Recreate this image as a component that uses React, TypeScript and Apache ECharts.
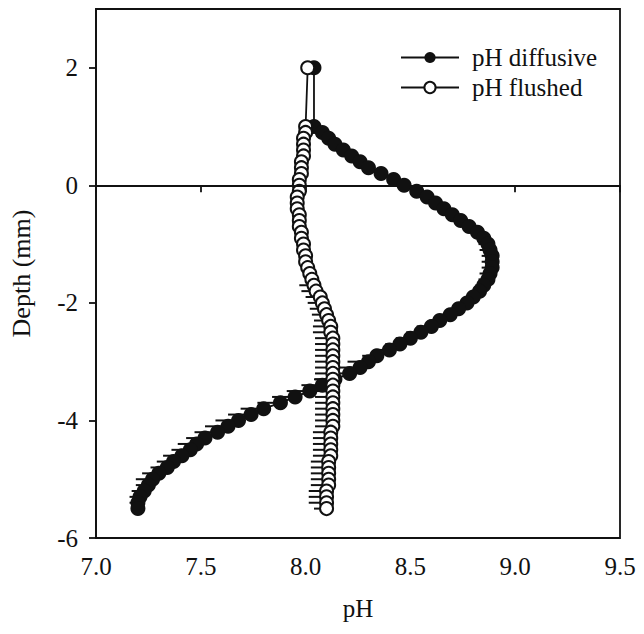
import React, { useEffect, useRef } from "react";
import * as echarts from "echarts";

// Depth (mm), shared by both profiles; first entry is the overlying-water reading
const depths: number[] = [
  2.0,
  1.0, 0.9, 0.8, 0.7, 0.6, 0.5, 0.4, 0.3, 0.2, 0.1,
  0.0, -0.1, -0.2, -0.3, -0.4, -0.5, -0.6, -0.7, -0.8, -0.9,
  -1.0, -1.1, -1.2, -1.3, -1.4, -1.5, -1.6, -1.7, -1.8, -1.9,
  -2.0, -2.1, -2.2, -2.3, -2.4, -2.5, -2.6, -2.7, -2.8, -2.9,
  -3.0, -3.1, -3.2, -3.3, -3.4, -3.5, -3.6, -3.7, -3.8, -3.9,
  -4.0, -4.1, -4.2, -4.3, -4.4, -4.5, -4.6, -4.7, -4.8, -4.9,
  -5.0, -5.1, -5.2, -5.3, -5.4, -5.5,
];

const diffusivePH: number[] = [
  8.04,
  8.04, 8.08, 8.11, 8.14, 8.18, 8.22, 8.26, 8.30, 8.36, 8.42,
  8.47, 8.53, 8.58, 8.62, 8.66, 8.70, 8.74, 8.78, 8.82, 8.85,
  8.87, 8.88, 8.89, 8.89, 8.89, 8.88, 8.87, 8.85, 8.83, 8.80,
  8.77, 8.73, 8.69, 8.64, 8.60, 8.55, 8.50, 8.45, 8.40, 8.34,
  8.30, 8.26, 8.21, 8.14, 8.08, 8.02, 7.95, 7.88, 7.80, 7.74,
  7.68, 7.63, 7.58, 7.52, 7.48, 7.45, 7.41, 7.37, 7.34, 7.30,
  7.27, 7.25, 7.23, 7.21, 7.20, 7.20,
];

const diffusiveErr: number[] = [
  0,
  0, 0, 0, 0, 0, 0, 0, 0, 0, 0,
  0, 0, 0, 0, 0, 0, 0, 0, 0, 0,
  0.045, 0.05, 0.05, 0.05, 0.05, 0.05, 0.045, 0.04, 0.04, 0.04,
  0.04, 0.04, 0.04, 0.05, 0.07, 0.07, 0.07, 0.07, 0.07, 0.07,
  0.10, 0.10, 0.10, 0.10, 0.10, 0.11, 0.11, 0.11, 0.11, 0.11,
  0.11, 0.11, 0.11, 0.09, 0.09, 0.09, 0.09, 0.08, 0.08, 0.08,
  0.08, 0.06, 0.06, 0.05, 0.04, 0.03,
];

const flushedPH: number[] = [
  8.01,
  8.00, 8.00, 7.99, 7.99, 7.99, 7.99, 7.98, 7.98, 7.98, 7.97,
  7.97, 7.97, 7.96, 7.96, 7.96, 7.97, 7.97, 7.97, 7.98, 7.98,
  7.99, 7.99, 8.00, 8.00, 8.01, 8.02, 8.03, 8.04, 8.05, 8.07,
  8.08, 8.09, 8.10, 8.11, 8.12, 8.12, 8.13, 8.13, 8.13, 8.13,
  8.13, 8.13, 8.13, 8.13, 8.13, 8.13, 8.13, 8.13, 8.13, 8.13,
  8.13, 8.13, 8.12, 8.12, 8.12, 8.12, 8.12, 8.11, 8.11, 8.11,
  8.11, 8.11, 8.10, 8.10, 8.10, 8.10,
];

const flushedErr: number[] = [
  0,
  0, 0, 0, 0, 0, 0, 0, 0, 0, 0,
  0, 0, 0, 0, 0, 0, 0, 0, 0, 0,
  0, 0, 0, 0, 0, 0, 0, 0.07, 0.07, 0.07,
  0.07, 0.07, 0.07, 0.07, 0.085, 0.085, 0.085, 0.085, 0.085, 0.085,
  0.085, 0.085, 0.085, 0.085, 0.085, 0.085, 0.085, 0.085, 0.085, 0.085,
  0.085, 0.085, 0.085, 0.085, 0.085, 0.085, 0.085, 0.085, 0.085, 0.085,
  0.085, 0.085, 0.085, 0.085, 0.085, 0.06,
];

const xTicks: number[] = [7.0, 7.5, 8.0, 8.5, 9.0, 9.5];
const yTicks: number[] = [-6, -4, -2, 0, 2];

const seriesNames = ["pH diffusive", "pH flushed"];

const FONT = "'Liberation Serif', 'Times New Roman', serif";
const FS = 25;

function errorRenderItem(params: any, api: any) {
  const x = api.value(0);
  const y = api.value(1);
  const e = api.value(2);
  if (!e) return null;
  const p1 = api.coord([x - e, y]);
  const p2 = api.coord([x, y]);
  return {
    type: "line",
    shape: { x1: p1[0], y1: p1[1], x2: p2[0], y2: p2[1] },
    style: { stroke: "#111", lineWidth: 2 },
  };
}

export default function App() {
  const ref = useRef<HTMLDivElement>(null);

  useEffect(() => {
    if (!ref.current) return;
    const chart = echarts.init(ref.current, undefined, { renderer: "svg" });

    const diffData = depths.map((d, i) => [diffusivePH[i], d]);
    const flushData = depths.map((d, i) => [flushedPH[i], d]);
    const diffErrData = depths.map((d, i) => [diffusivePH[i], d, diffusiveErr[i]]);
    const flushErrData = depths.map((d, i) => [flushedPH[i], d, flushedErr[i]]);

    chart.setOption({
      animation: false,
      backgroundColor: "#fff",
      grid: {
        left: 95,
        right: 24,
        top: 9,
        bottom: 96,
        show: true,
        borderColor: "#111",
        borderWidth: 1.8,
        backgroundColor: "transparent",
      },
      legend: {
        data: seriesNames,
        orient: "vertical",
        left: 395,
        top: 40,
        itemWidth: 58,
        itemHeight: 14,
        itemGap: 5,
        textStyle: { fontFamily: FONT, fontSize: FS, color: "#111", padding: [0, 0, 0, 8] },
      },
      xAxis: {
        type: "value",
        min: 7,
        max: 9.5,
        interval: 0.5,
        name: "pH",
        nameLocation: "middle",
        nameGap: 58,
        nameTextStyle: { fontFamily: FONT, fontSize: FS, color: "#111" },
        axisLine: { show: true, lineStyle: { color: "#111", width: 1.8 } },
        axisTick: { show: true, length: 7, inside: false, lineStyle: { color: "#111", width: 1.8 } },
        axisLabel: {
          fontFamily: FONT,
          fontSize: FS,
          color: "#111",
          margin: 16,
          formatter: (v: number) => v.toFixed(1),
          customValues: xTicks,
        },
        splitLine: { show: false },
      },
      yAxis: {
        type: "value",
        min: -6,
        max: 3,
        name: "Depth (mm)",
        nameLocation: "middle",
        nameGap: 62,
        nameRotate: 90,
        nameTextStyle: { fontFamily: FONT, fontSize: 26, color: "#111" },
        axisLine: { show: true, lineStyle: { color: "#111", width: 1.8 } },
        axisTick: { show: true, length: 7, inside: false, customValues: yTicks, lineStyle: { color: "#111", width: 1.8 } },
        axisLabel: {
          fontFamily: FONT,
          fontSize: FS,
          color: "#111",
          margin: 18,
          customValues: yTicks,
        },
        splitLine: { show: false },
      },
      series: [
        {
          type: "custom",
          name: "diffErr",
          renderItem: errorRenderItem,
          encode: { x: 0, y: 1 },
          data: diffErrData,
          z: 1,
          silent: true,
        },
        {
          type: "custom",
          name: "flushErr",
          renderItem: errorRenderItem,
          encode: { x: 0, y: 1 },
          data: flushErrData,
          z: 1,
          silent: true,
        },
        {
          type: "line",
          name: seriesNames[0],
          data: diffData,
          symbol: "circle",
          symbolSize: 15,
          showAllSymbol: true,
          lineStyle: { color: "#111", width: 1.8 },
          itemStyle: { color: "#111", borderColor: "#111", borderWidth: 0 },
          z: 3,
          markLine: {
            silent: true,
            symbol: "none",
            label: { show: false },
            lineStyle: { color: "#111", width: 1.8, type: "solid" },
            data: [{ yAxis: 0 }],
          },
        },
        {
          type: "line",
          name: seriesNames[1],
          data: flushData,
          symbol: "circle",
          symbolSize: 13,
          showAllSymbol: true,
          lineStyle: { color: "#111", width: 1.8 },
          itemStyle: { color: "#fff", borderColor: "#111", borderWidth: 2 },
          z: 4,
        },
      ],
    });

    return () => {
      chart.dispose();
    };
  }, []);

  return (
    <div
      ref={ref}
      style={{ position: "fixed", left: 0, top: 0, width: 644, height: 634, background: "#fff" }}
    />
  );
}
